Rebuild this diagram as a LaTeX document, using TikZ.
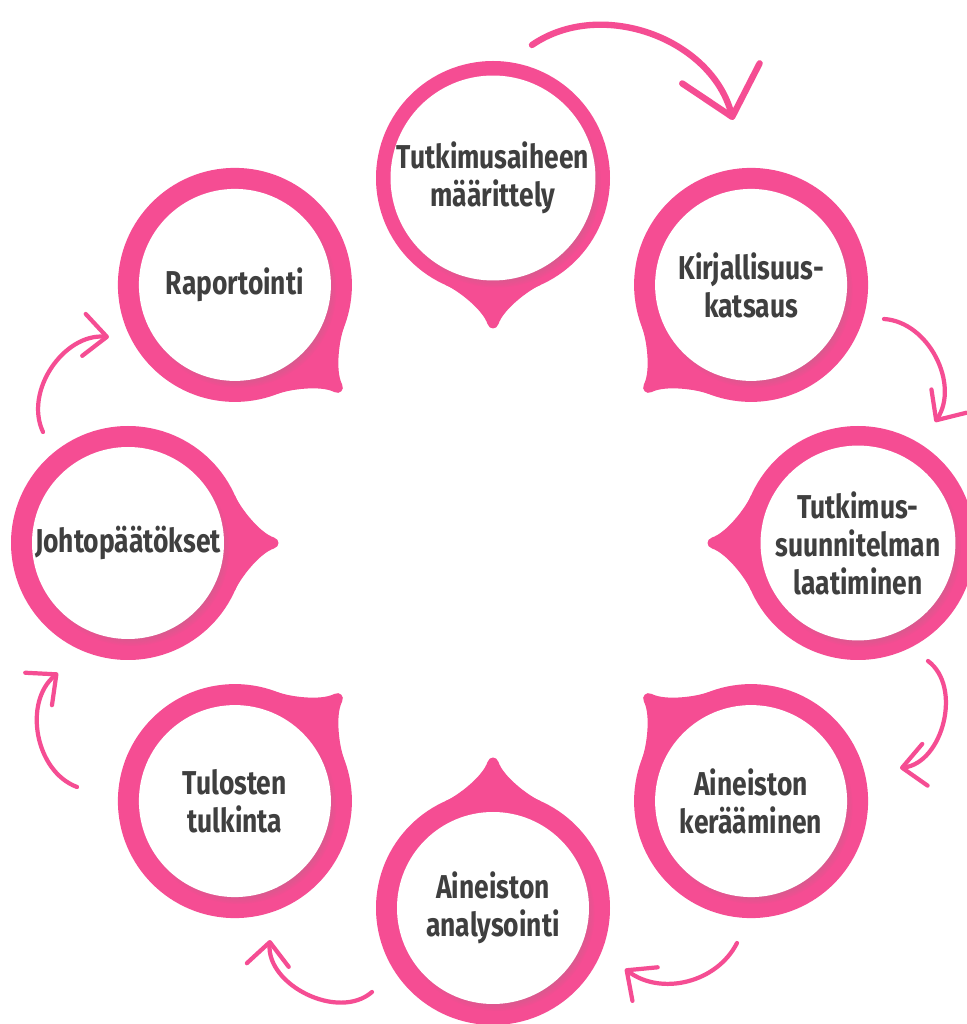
\documentclass[tikz,border=0pt]{standalone}
\usepackage{fontspec}
\newfontfamily\bubblefont{Fira Sans}[FakeStretch=0.8]
\usetikzlibrary{arrows.meta,shadows}
\definecolor{ringpink}{HTML}{F54D93}
\definecolor{labelgray}{HTML}{3F3F3F}

\begin{document}
\begin{tikzpicture}[
    ring/.style={circle,fill=ringpink,minimum size=2.34cm,inner sep=0pt},
    face/.style={circle,fill=white,minimum size=1.92cm,inner sep=0pt,align=center,
      text=labelgray,font=\bubblefont\bfseries\fontsize{9.4}{10.8}\selectfont,
      circular drop shadow={shadow xshift=1pt,shadow yshift=-1.4pt,shadow scale=1.02,opacity=.4}},
    flow/.style={ringpink,line width=1.2pt,line cap=round,-{Straight Barb[length=2.3mm,width=4.2mm,round]}},
    bigflow/.style={flow,line width=1.8pt,-{Straight Barb[length=4.5mm,width=8mm,round]}}]
   \path[use as bounding box,fill=white] (0,0) rectangle (9.66,10.24);

   % bubbles around the middle, tails pointing inwards
   \begin{scope}[shift={(4.93,4.81)}]
   \foreach \a/\n/\t in {90/b1/{Tutkimusaiheen\\määrittely},
                         45/b2/{Kirjallisuus-\\katsaus},
                         0/b3/{Tutkimus-\\suunnitelman\\laatiminen},
                         -45/b4/{Aineiston\\kerääminen},
                         -90/b5/{Aineiston\\analysointi},
                         -135/b6/{Tulosten\\tulkinta},
                         180/b7/{Johtopäätökset},
                         135/b8/{Raportointi}} {
      \fill[ringpink,shift={(\a:3.65)},rotate=\a+180]
        (0,0) -- (24:1.17) .. controls (1.13,0.34) and (1.32,0.10) .. (1.46,0.055)
        .. controls (1.52,0.035) and (1.52,-0.035) .. (1.46,-0.055)
        .. controls (1.32,-0.10) and (1.13,-0.34) .. (-24:1.17) -- cycle;
      \node[ring] (\n-ring) at (\a:3.65) {};
      \node[face] (\n) at (\a:3.65) {\t};
   }
   \end{scope}

   % arrows between the bubbles
   \coordinate (a1s) at (5.32,9.79); \coordinate (a1e) at (7.33,9.04);
   \coordinate (a2s) at (8.84,7.05); \coordinate (a2e) at (9.35,6.02);
   \coordinate (a3s) at (9.28,3.63); \coordinate (a3e) at (9.00,2.56);
   \coordinate (a4s) at (7.37,0.81); \coordinate (a4e) at (6.25,0.55);
   \coordinate (a5s) at (3.72,0.32); \coordinate (a5e) at (2.70,0.84);
   \coordinate (a6s) at (0.77,2.37); \coordinate (a6e) at (0.58,3.51);
   \coordinate (a7s) at (0.43,5.92); \coordinate (a7e) at (1.09,6.87);
   \draw[bigflow] (a1s) to[bend left=55] (a1e);
   \draw[flow] (a2s) to[bend left=60] (a2e);
   \draw[flow] (a3s) to[bend left=68] (a3e);
   \draw[flow] (a4s) to[bend left=50] (a4e);
   \draw[flow] (a5s) to[bend left=68] (a5e);
   \draw[flow] (a6s) to[bend left=60] (a6e);
   \draw[flow] (a7s) to[bend left=60] (a7e);
\end{tikzpicture}
\end{document}
